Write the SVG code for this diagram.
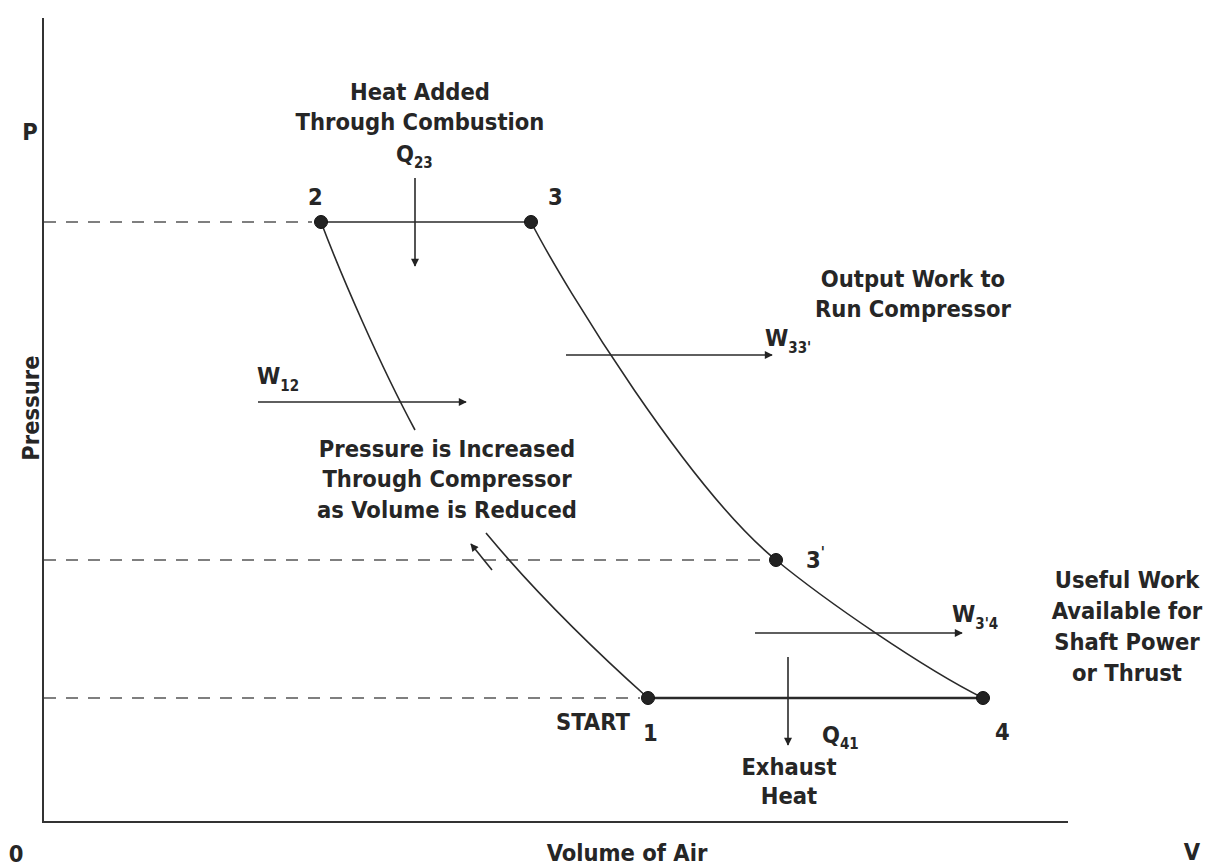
<svg xmlns="http://www.w3.org/2000/svg" width="1210" height="866" viewBox="0 0 1210 866">
<style>
.t{font-family:"Liberation Sans Narrow","DejaVu Sans Condensed","Liberation Sans",sans-serif;font-weight:bold;fill:#262626;font-size:23.5px}
.m{text-anchor:middle}
.s{font-size:15px}
.ax{stroke:#333;stroke-width:2;fill:none}
.dash{stroke:#555;stroke-width:1.6;stroke-dasharray:12,10;fill:none}
.ln{stroke:#2a2a2a;stroke-width:1.6;fill:none}
.arr{stroke:#2a2a2a;stroke-width:1.6;fill:none;marker-end:url(#ah)}
.dot{fill:#222;stroke:#111;stroke-width:1}
</style>
<defs>
<marker id="ah" viewBox="0 0 10 10" refX="9" refY="5" markerWidth="10" markerHeight="8" orient="auto" markerUnits="userSpaceOnUse">
<path d="M0,0 L10,5 L0,10 z" fill="#222"/>
</marker>
</defs>
<rect width="1210" height="866" fill="#fff"/>
<g id="axes">
<line class="ax" x1="43" y1="18" x2="43" y2="822"/>
<line class="ax" x1="42" y1="822" x2="1068" y2="822"/>
<text class="t" x="30" y="140" text-anchor="middle">P</text>
<text class="t" x="16" y="862" text-anchor="middle">0</text>
<text class="t" x="1192" y="860" text-anchor="middle">V</text>
<text class="t m" x="627" y="861">Volume of Air</text>
<text class="t m" transform="translate(39,408) rotate(-90)">Pressure</text>
</g>
<g id="connectors">
<line class="dash" x1="44" y1="222" x2="312" y2="222"/>
<line class="dash" x1="44" y1="560" x2="768" y2="560"/>
<line class="dash" x1="44" y1="698" x2="640" y2="698"/>
<line class="ln" x1="321" y1="222" x2="531" y2="222"/>
<line class="ln" x1="648" y1="698" x2="983" y2="698" style="stroke-width:2.4"/>
<path class="ln" d="M531,222 C566,290 690,490 776,560 C826,601 923,668 983,698"/>
<path class="ln" d="M321,222 C341,275 380,365 415,430"/>
<path class="ln" d="M486,533 C535,592 600,655 648,698"/>
<line class="arr" x1="492" y1="570" x2="471" y2="544"/>
<line class="arr" x1="415" y1="178" x2="415" y2="266"/>
<line class="arr" x1="258" y1="402" x2="466" y2="402"/>
<line class="arr" x1="566" y1="355" x2="772" y2="355"/>
<line class="arr" x1="755" y1="633" x2="962" y2="633"/>
<line class="arr" x1="788" y1="657" x2="788" y2="745"/>
</g>
<g id="node-2">
<circle class="dot" cx="321" cy="222" r="6.5"/>
<text class="t" x="308" y="205">2</text>
</g>
<g id="node-3">
<circle class="dot" cx="531" cy="222" r="6.5"/>
<text class="t" x="548" y="205">3</text>
</g>
<g id="node-3p">
<circle class="dot" cx="776" cy="560" r="6.5"/>
<text class="t" x="806" y="568">3<tspan class="s" dy="-10">'</tspan></text>
</g>
<g id="node-4">
<circle class="dot" cx="983" cy="698" r="6.5"/>
<text class="t" x="995" y="740">4</text>
</g>
<g id="node-1">
<circle class="dot" cx="648" cy="698" r="6.5"/>
<text class="t" x="556" y="730">START</text>
<text class="t" x="643" y="741">1</text>
</g>
<g id="label-heat-added">
<text class="t m" x="420" y="100">Heat Added</text>
<text class="t m" x="420" y="130">Through Combustion</text>
<text class="t" x="396" y="162">Q<tspan class="s" dy="6">23</tspan></text>
</g>
<g id="label-w12">
<text class="t" x="257" y="384">W<tspan class="s" dy="7">12</tspan></text>
</g>
<g id="label-compressor">
<text class="t m" x="447" y="457">Pressure is Increased</text>
<text class="t m" x="447" y="487">Through Compressor</text>
<text class="t m" x="447" y="518">as Volume is Reduced</text>
</g>
<g id="label-output-work">
<text class="t m" x="913" y="287">Output Work to</text>
<text class="t m" x="913" y="317">Run Compressor</text>
<text class="t" x="765" y="346">W<tspan class="s" dy="7">33'</tspan></text>
</g>
<g id="label-useful-work">
<text class="t m" x="1127" y="588">Useful Work</text>
<text class="t m" x="1127" y="619">Available for</text>
<text class="t m" x="1127" y="650">Shaft Power</text>
<text class="t m" x="1127" y="681">or Thrust</text>
<text class="t" x="952" y="622">W<tspan class="s" dy="7">3'4</tspan></text>
</g>
<g id="label-exhaust">
<text class="t" x="822" y="743">Q<tspan class="s" dy="6">41</tspan></text>
<text class="t m" x="789" y="775">Exhaust</text>
<text class="t m" x="789" y="804">Heat</text>
</g>
</svg>
